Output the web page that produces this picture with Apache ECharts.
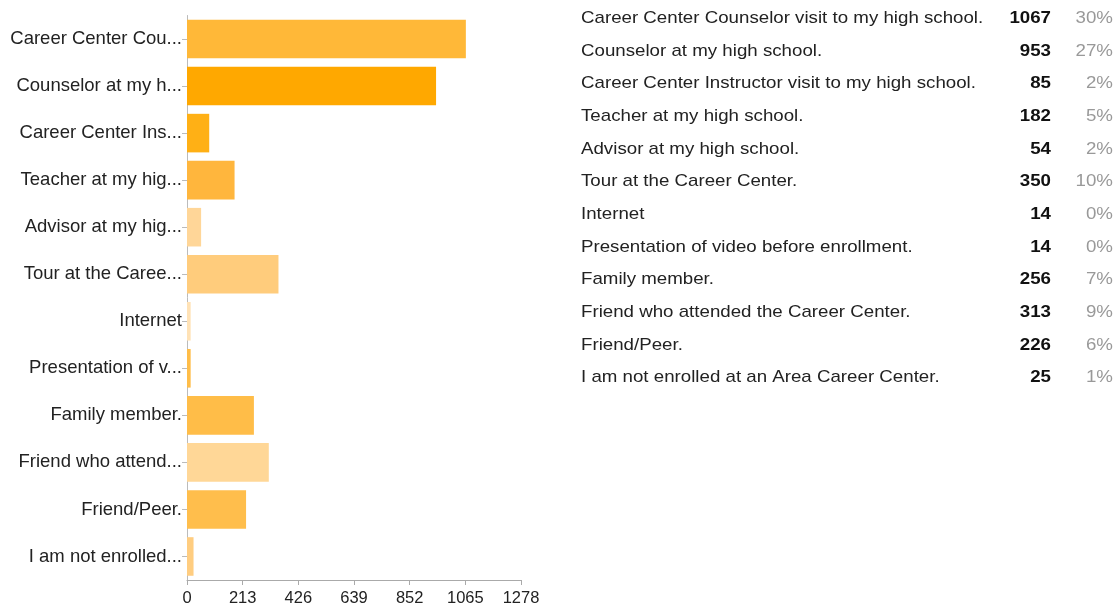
<!DOCTYPE html>
<html><head><meta charset="utf-8">
<script src="https://cdn.jsdelivr.net/npm/echarts@6/dist/echarts.min.js"></script>
<style>html,body{margin:0;padding:0;background:#fff}#c{width:1119px;height:607px}</style>
</head><body><div id="c"></div>
<script>
const categories = [
  "Career Center Counselor visit to my high school.",
  "Counselor at my high school.",
  "Career Center Instructor visit to my high school.",
  "Teacher at my high school.",
  "Advisor at my high school.",
  "Tour at the Career Center.",
  "Internet",
  "Presentation of video before enrollment.",
  "Family member.",
  "Friend who attended the Career Center.",
  "Friend/Peer.",
  "I am not enrolled at an Area Career Center."
];
const shortLabels = [
  "Career Center Cou...", "Counselor at my h...", "Career Center Ins...", "Teacher at my hig...",
  "Advisor at my hig...", "Tour at the Caree...", "Internet", "Presentation of v...",
  "Family member.", "Friend who attend...", "Friend/Peer.", "I am not enrolled..."
];
const counts = [1067, 953, 85, 182, 54, 350, 14, 14, 256, 313, 226, 25];
const percents = ["30%", "27%", "2%", "5%", "2%", "10%", "0%", "0%", "7%", "9%", "6%", "1%"];
const xTicks = [0, 213, 426, 639, 852, 1065, 1278];
const barColors = ["#ffb838", "#ffa800", "#ffb015", "#ffb63d", "#ffd698", "#ffcc7c",
  "#ffe2b6", "#ffbd48", "#ffbd48", "#ffd797", "#ffbe4c", "#ffcd80"];

const FONT = "Liberation Sans";
const chart = echarts.init(document.getElementById('c'));

const rowTop = 18.5, rowStep = 32.65, sx = 1.1;
const graphics = [];
categories.forEach((c, i) => {
  const y = rowTop + i * rowStep;
  graphics.push({type: 'text', x: 581, y: y, scaleX: sx, style: {text: c, fill: '#222', fontFamily: FONT, fontSize: 17, verticalAlign: 'middle'}});
  graphics.push({type: 'text', x: 1051, y: y, scaleX: sx, style: {text: String(counts[i]), fill: '#111', fontFamily: FONT, fontSize: 17, fontWeight: 'bold', align: 'right', verticalAlign: 'middle'}});
  graphics.push({type: 'text', x: 1113, y: y, scaleX: sx, style: {text: percents[i], fill: '#999', fontFamily: FONT, fontSize: 17, align: 'right', verticalAlign: 'middle'}});
});

chart.setOption({
  animation: false,
  textStyle: {fontFamily: FONT},
  grid: {left: 187, top: 15.5, width: 334, height: 565, containLabel: false},
  xAxis: {
    type: 'value', min: 0, max: 1278, interval: 213,
    axisLine: {show: true, lineStyle: {color: '#aaa'}},
    axisTick: {show: true, length: 5, lineStyle: {color: '#aaa'}},
    splitLine: {show: false},
    axisLabel: {color: '#222', fontFamily: FONT, fontSize: 16.5, margin: 10, formatter: v => xTicks.includes(v) ? String(v) : ''}
  },
  yAxis: {
    type: 'category', inverse: true, data: shortLabels,
    axisLine: {show: true, lineStyle: {color: '#bbb'}},
    axisTick: {show: true, alignWithLabel: true, length: 5, lineStyle: {color: '#bbb'}},
    axisLabel: {color: '#222', fontFamily: FONT, fontSize: 18.5, margin: 5}
  },
  series: [{
    type: 'bar', barCategoryGap: '18%',
    data: counts.map((v, i) => ({value: v, itemStyle: {color: barColors[i]}}))
  }],
  graphic: graphics
});
</script></body></html>
